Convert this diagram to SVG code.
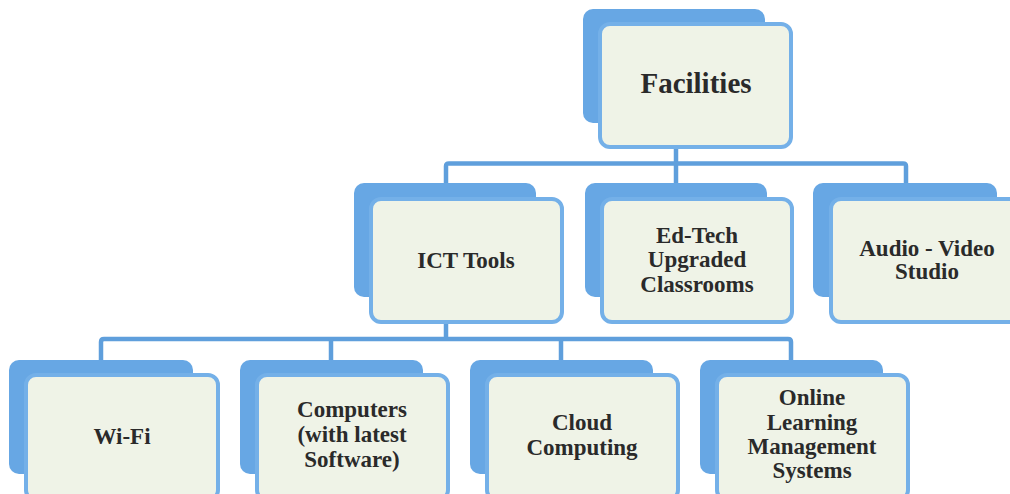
<svg xmlns="http://www.w3.org/2000/svg" width="1010" height="494" viewBox="0 0 1010 494">
<defs>
<style>
.back{fill:#67a7e4;}
.front{fill:#eff3e7;stroke:#74b0e8;stroke-width:4;}
.lbl{font-family:'Liberation Serif','Times New Roman','DejaVu Serif',serif;font-weight:700;font-size:23px;fill:#2a2a2a;text-anchor:middle;}
.big{font-size:29px;}
.conn{fill:none;stroke:#5f9fdc;stroke-width:4.5;stroke-linejoin:round;stroke-linecap:butt;}
</style>
</defs>
<rect width="1010" height="494" fill="#ffffff"/>
<g id="connectors">
<path class="conn" d="M676 147 V183"/>
<path class="conn" d="M446 183 V166 Q446 163.5 449 163.5 H903 Q906 163.5 906 166 V183"/>
<path class="conn" d="M446 322 V339"/>
<path class="conn" d="M101 360 V342 Q101 339 104 339 H788 Q791 339 791 342 V360"/>
<path class="conn" d="M331 339 V360"/>
<path class="conn" d="M561 339 V360"/>
</g>
<g id="facilities">
<rect class="back" x="583" y="9" width="182" height="114" rx="10"/>
<rect class="front" x="600" y="24" width="191" height="123" rx="10"/>
<text class="lbl big" x="696" y="93" font-family="Liberation Serif, serif">Facilities</text>
</g>
<g id="ict-tools">
<rect class="back" x="354" y="183" width="182" height="114" rx="10"/>
<rect class="front" x="371" y="199" width="191" height="123" rx="10"/>
<text class="lbl" x="466" y="268">ICT Tools</text>
</g>
<g id="ed-tech">
<rect class="back" x="585" y="183" width="182" height="114" rx="10"/>
<rect class="front" x="602" y="199" width="190" height="123" rx="10"/>
<text class="lbl" x="697" y="243">Ed-Tech</text>
<text class="lbl" x="697" y="267">Upgraded</text>
<text class="lbl" x="697" y="292">Classrooms</text>
</g>
<g id="audio-video">
<rect class="back" x="813" y="183" width="184" height="114" rx="10"/>
<rect class="front" x="831" y="199" width="192" height="123" rx="10"/>
<text class="lbl" x="927" y="256">Audio - Video</text>
<text class="lbl" x="927" y="279">Studio</text>
</g>
<g id="wifi">
<rect class="back" x="9" y="360" width="184" height="114" rx="10"/>
<rect class="front" x="26" y="375" width="192" height="125" rx="10"/>
<text class="lbl" x="122" y="444">Wi-Fi</text>
</g>
<g id="computers">
<rect class="back" x="240" y="360" width="183" height="114" rx="10"/>
<rect class="front" x="257" y="375" width="191" height="125" rx="10"/>
<text class="lbl" x="352" y="417">Computers</text>
<text class="lbl" x="352" y="442">(with latest</text>
<text class="lbl" x="352" y="467">Software)</text>
</g>
<g id="cloud">
<rect class="back" x="470" y="360" width="183" height="114" rx="10"/>
<rect class="front" x="487" y="375" width="191" height="125" rx="10"/>
<text class="lbl" x="582" y="430">Cloud</text>
<text class="lbl" x="582" y="455">Computing</text>
</g>
<g id="lms">
<rect class="back" x="700" y="360" width="183" height="114" rx="10"/>
<rect class="front" x="717" y="375" width="191" height="125" rx="10"/>
<text class="lbl" x="812" y="405">Online</text>
<text class="lbl" x="812" y="430">Learning</text>
<text class="lbl" x="812" y="454">Management</text>
<text class="lbl" x="812" y="478">Systems</text>
</g>
</svg>
